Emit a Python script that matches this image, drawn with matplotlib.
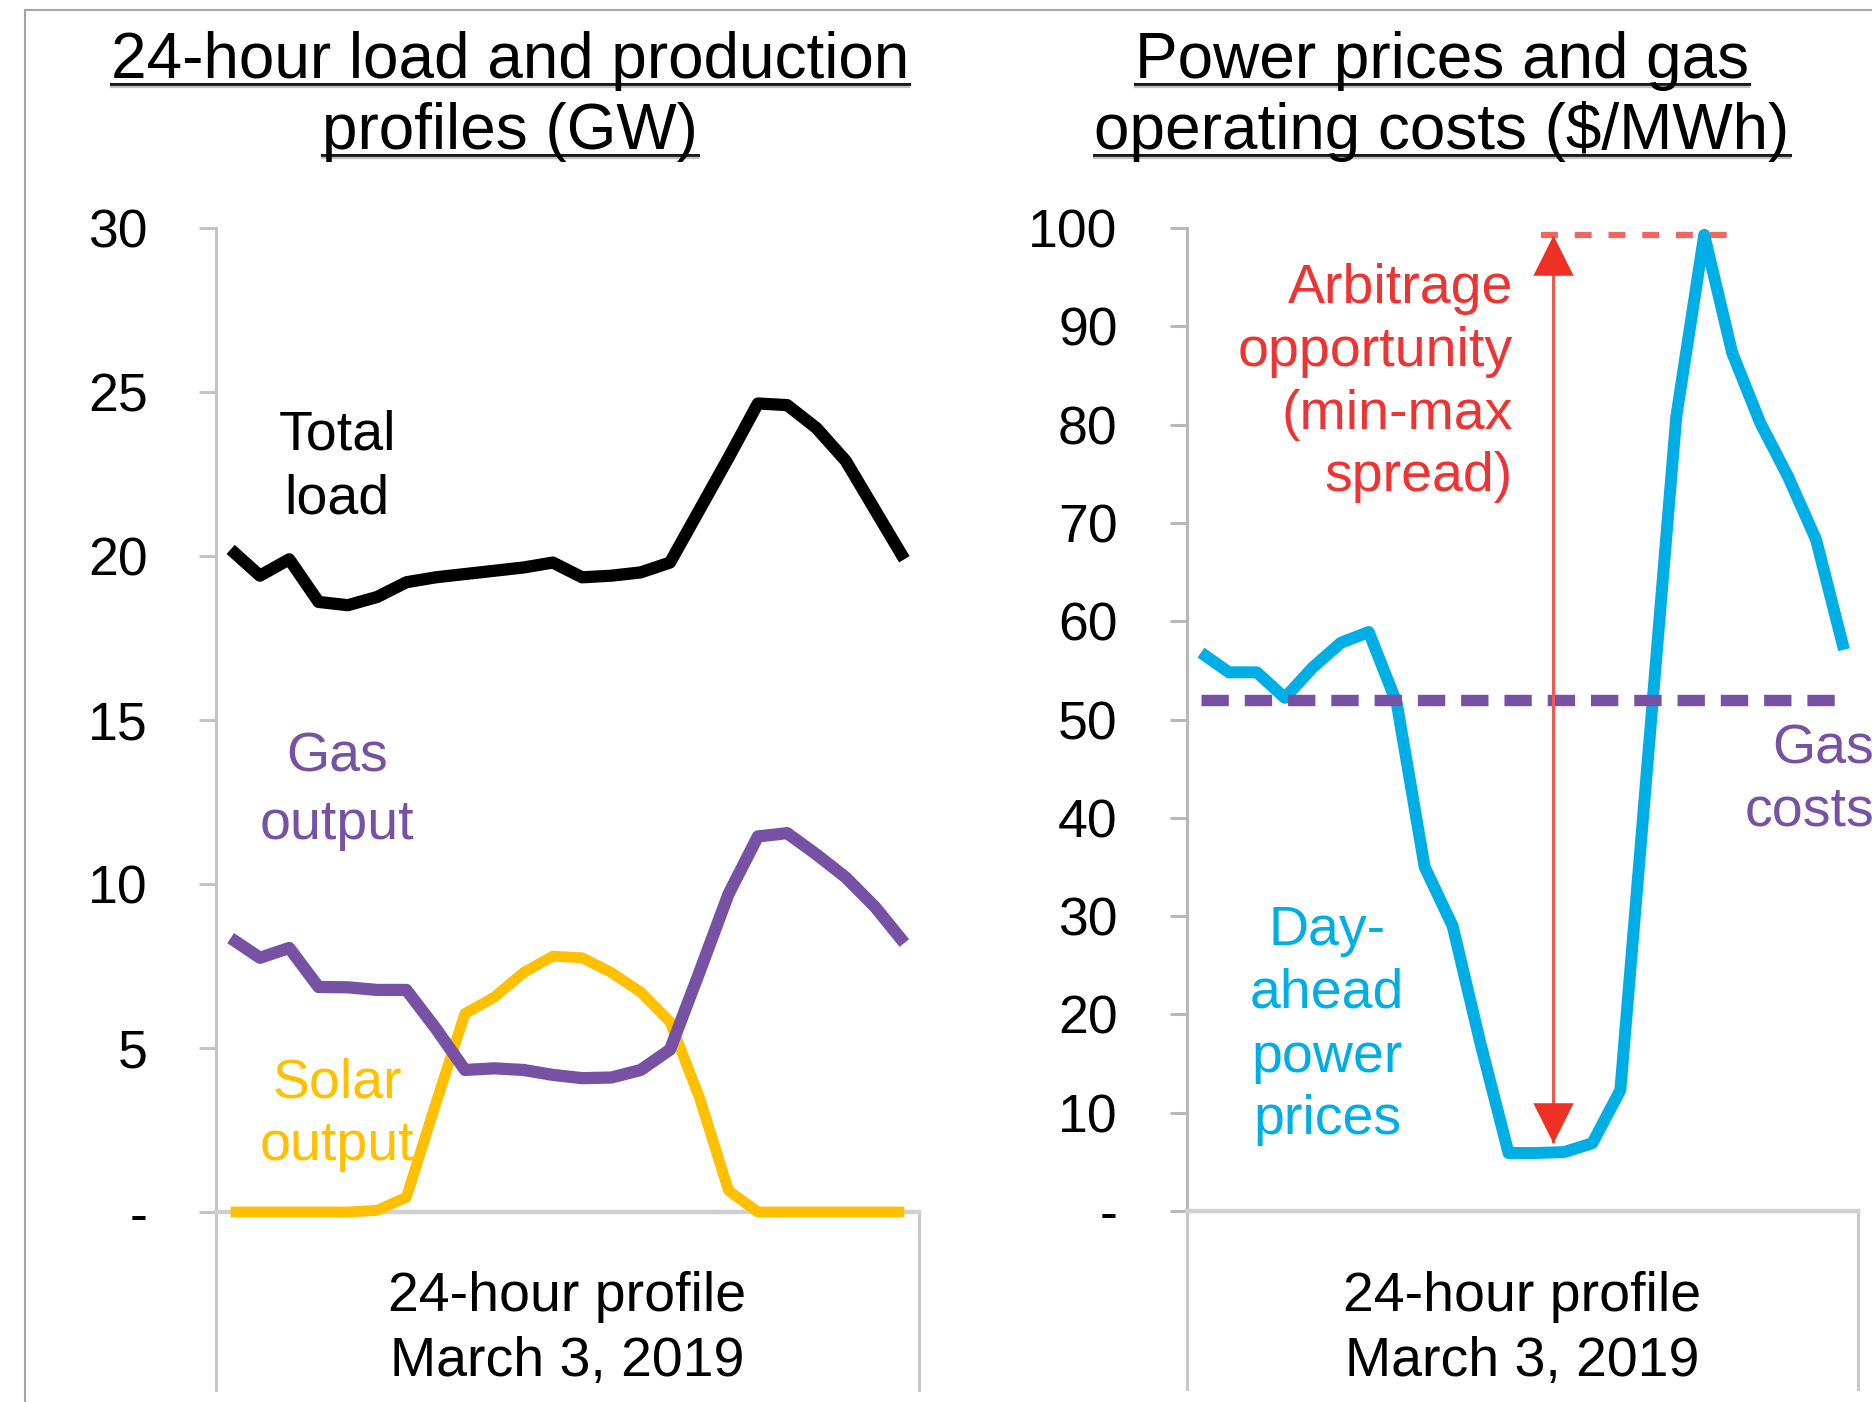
import matplotlib
matplotlib.use("Agg")
import matplotlib.pyplot as plt
from matplotlib.lines import Line2D

plt.rcParams['font.family'] = ['Liberation Sans', 'DejaVu Sans']

# data (hourly, March 3 2019)
hours = list(range(24))
total_load = [20.2, 19.4, 19.9, 18.6, 18.5, 18.75, 19.2, 19.35, 19.45, 19.55, 19.65, 19.8,
              19.35, 19.4, 19.5, 19.8, 21.4, 23.0, 24.65, 24.6, 23.9, 22.9, 21.4, 19.9]
gas_output = [8.35, 7.75, 8.05, 6.86, 6.85, 6.77, 6.77, 5.6, 4.33, 4.38, 4.33, 4.18,
              4.08, 4.1, 4.33, 4.95, 7.3, 9.7, 11.45, 11.55, 10.9, 10.2, 9.3, 8.2]
solar_output = [0, 0, 0, 0, 0, 0.05, 0.45, 3.3, 6.05, 6.55, 7.3, 7.8,
                7.75, 7.3, 6.7, 5.8, 3.5, 0.65, 0, 0, 0, 0, 0, 0]
power_price = [56.8, 54.8, 54.8, 52.2, 55.3, 57.8, 58.9, 51.7, 35.0, 29.0, 17.0, 5.9,
               5.9, 6.0, 6.9, 12.3, 46.5, 80.8, 99.3, 87.3, 80.2, 74.7, 68.3, 57.1]
gas_cost = 52

left_ticks = [0, 5, 10, 15, 20, 25, 30]
left_ticklabels = ['-', '5', '10', '15', '20', '25', '30']
right_ticks = [0, 10, 20, 30, 40, 50, 60, 70, 80, 90, 100]
right_ticklabels = ['-', '10', '20', '30', '40', '50', '60', '70', '80', '90', '100']
category_label = ["24-hour profile", "March 3, 2019"]
left_title = ["24-hour load and production", "profiles (GW)"]
right_title = ["Power prices and gas", "operating costs ($/MWh)"]

BLACK = '#000000'
PURPLE = '#7752A4'
GOLD = '#FFC000'
CYAN = '#00AEE6'
RED = '#EE3124'
RED_TXT = '#EE3333'

W, H = 1872, 1402
def fx(x):
    return x / W
def fy(y):
    return 1 - y / H

fig = plt.figure(figsize=(W / 100, H / 100), dpi=100)

# outer frame (only top and left edge are visible in the crop)
fig.add_artist(Line2D([fx(25), fx(25)], [fy(10), 0], transform=fig.transFigure, color='#A6A6A6', lw=1.5))
fig.add_artist(Line2D([fx(25), 1], [fy(10), fy(10)], transform=fig.transFigure, color='#A6A6A6', lw=1.5))

ax1 = fig.add_axes([fx(216), fy(1212), (919 - 216) / W, (1212 - 228) / H])
ax2 = fig.add_axes([fx(1187), fy(1211), (1858 - 1187) / W, (1211 - 228) / H])


def style_axis(ax, ticks, labels, spine_col, pad):
    ax.set_xlim(-0.5, 23.5)
    ax.set_ylim(ticks[0], ticks[-1])
    ax.set_yticks(ticks)
    ax.set_yticklabels(labels, fontsize=38.5)
    ax.set_xticks([])
    ax.tick_params(axis='y', direction='out', length=12, width=2.2, color=spine_col, pad=pad)
    ax.spines['top'].set_visible(False)
    ax.spines['right'].set_visible(False)
    ax.spines['left'].set_color(spine_col)
    ax.spines['left'].set_linewidth(2.2)
    ax.spines['bottom'].set_color('#D0D0D0')
    ax.spines['bottom'].set_linewidth(3.2)
    # category boundaries reaching down past the axis
    for xx in (0, 1):
        ax.add_line(Line2D([xx, xx], [0, -0.181], transform=ax.transAxes, color='#C8C8C8',
                           lw=2.2, clip_on=False))


style_axis(ax1, left_ticks, left_ticklabels, '#C4C4C4', 37)
style_axis(ax2, right_ticks, right_ticklabels, '#B8B8B8', 38)

line_kw = dict(solid_joinstyle='round', solid_capstyle='butt', zorder=3, clip_on=False)

# left panel
ax1.plot(hours, solar_output, color=GOLD, lw=7.8, **line_kw)
ax1.plot(hours, gas_output, color=PURPLE, lw=8.8, **line_kw)
ax1.plot(hours, total_load, color=BLACK, lw=8.8, **line_kw)

# right panel
ax2.plot(hours, power_price, color=CYAN, lw=8.6, **line_kw)
ax2.hlines(gas_cost, hours[0], hours[-1], color=PURPLE, lw=8.2, linestyles=(0, (2.4, 1.4)), zorder=4)

pmin, pmax = min(power_price), max(power_price)
arrow_x = 12.6
imax = power_price.index(pmax)
ax2.hlines(pmax, arrow_x - 0.45, imax + 1.3, color='#F0675E', lw=4.5, linestyles=(0, (2.7, 2.7)), zorder=2.5)
ax2.vlines(arrow_x, pmin + 1, pmax, color='#EE5A50', lw=2.2, zorder=5)
head_up = [(0, 0), (-0.5, -1), (0.5, -1)]
head_dn = [(0, 0), (-0.5, 1), (0.5, 1)]
ax2.plot([arrow_x], [pmax], marker=head_up, markersize=58, color=RED, mew=0, clip_on=False, zorder=5)
ax2.plot([arrow_x], [pmin + 1], marker=head_dn, markersize=58, color=RED, mew=0, clip_on=False, zorder=5)


def lines_text(x, ys, strings, color, ha='center', size=40):
    for y, s in zip(ys, strings):
        fig.text(fx(x), fy(y), s, ha=ha, va='baseline', fontsize=size, color=color)


# series labels
lines_text(337, [450, 514], ["Total", "load"], BLACK)
lines_text(337, [772, 839], ["Gas", "output"], PURPLE)
lines_text(337, [1098, 1160], ["Solar", "output"], GOLD)
lines_text(1513, [303, 366, 429, 491], ["Arbitrage", "opportunity", "(min-max", "spread)"], RED_TXT, ha='right')
lines_text(1327, [945, 1008, 1072, 1134], ["Day-", "ahead", "power", "prices"], CYAN)
lines_text(1874, [763, 826], ["Gas", "costs"], PURPLE, ha='right')

# category labels under each panel
lines_text(567, [1311, 1376], category_label, BLACK)
lines_text(1522, [1311, 1376], category_label, BLACK)

# underlined titles
title_texts = []
for cx, strings in ((510, left_title), (1442, right_title)):
    for y, s in zip((78, 149), strings):
        t = fig.text(fx(cx), fy(y), s, ha='center', va='baseline', fontsize=46, color=BLACK)
        title_texts.append((t, y))

fig.canvas.draw()
renderer = fig.canvas.get_renderer()
for t, y in title_texts:
    bb = t.get_window_extent(renderer)
    x0, x1 = bb.x0 / W, bb.x1 / W
    fig.add_artist(Line2D([x0, x1], [fy(y + 6), fy(y + 6)], transform=fig.transFigure, color='#1A1A1A', lw=2.2))
    fig.add_artist(Line2D([x0, x1], [fy(y + 9), fy(y + 9)], transform=fig.transFigure, color='#C0C0C0', lw=1.6))

fig.savefig("out.png", dpi=100)
